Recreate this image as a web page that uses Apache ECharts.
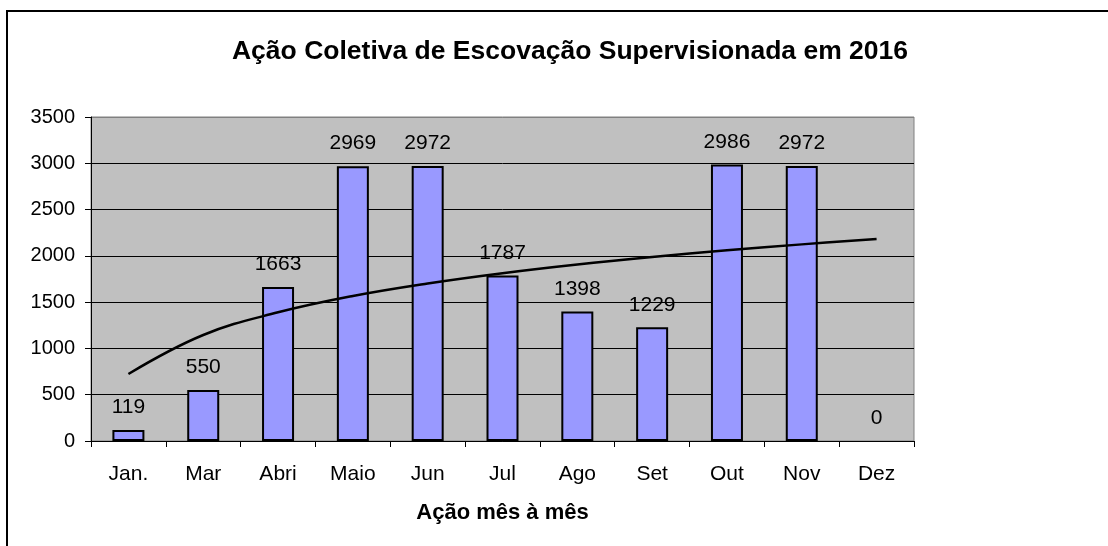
<!DOCTYPE html>
<html>
<head>
<meta charset="utf-8">
<script src="https://cdn.jsdelivr.net/npm/echarts@6/dist/echarts.min.js"></script>
<style>
  html, body { margin: 0; padding: 0; background: #fff; }
  #chart { width: 1108px; height: 546px; }
</style>
</head>
<body>
<div id="chart"></div>
<script>
  // dados
  const meses = ['Jan.', 'Mar', 'Abri', 'Maio', 'Jun', 'Jul', 'Ago', 'Set', 'Out', 'Nov', 'Dez'];
  const acoes = [119, 550, 1663, 2969, 2972, 1787, 1398, 1229, 2986, 2972, 0];
  // linha de tendência
  const tendencia = [724, 1145, 1390, 1567, 1702, 1813, 1907, 1988, 2060, 2124, 2182];

  const font = 'Liberation Sans, Arial, sans-serif';
  const chart = echarts.init(document.getElementById('chart'));

  chart.setOption({
    animation: false,
    backgroundColor: '#fff',
    title: {
      text: 'Ação Coletiva de Escovação Supervisionada em 2016',
      left: 565,
      top: 33,
      textAlign: 'center',
      textStyle: { fontFamily: font, fontSize: 26.5, fontWeight: 'bold', color: '#000' }
    },
    graphic: [{
      type: 'rect',
      shape: { x: 7, y: 11, width: 1200, height: 600 },
      style: { fill: 'none', stroke: '#000', lineWidth: 2 },
      silent: true
    }],
    grid: {
      left: 91, top: 117, right: 194, bottom: 105,
      show: true,
      backgroundColor: '#c0c0c0',
      borderColor: '#808080',
      borderWidth: 1
    },
    xAxis: {
      type: 'category',
      data: meses,
      name: 'Ação mês à mês',
      nameLocation: 'middle',
      nameGap: 61,
      nameTextStyle: { fontFamily: font, fontSize: 22, fontWeight: 'bold', color: '#000' },
      axisLine: { lineStyle: { color: '#000', width: 1 } },
      axisTick: { show: true, length: 6, lineStyle: { color: '#000' } },
      axisLabel: { fontFamily: font, fontSize: 21, color: '#000', margin: 23 }
    },
    yAxis: {
      type: 'value',
      min: 0,
      max: 3500,
      interval: 500,
      axisLine: { show: true, lineStyle: { color: '#000', width: 1 } },
      axisTick: { show: true, length: 6, lineStyle: { color: '#000' } },
      axisLabel: { fontFamily: font, fontSize: 20, color: '#000', margin: 16, formatter: v => String(v) },
      splitLine: { lineStyle: { color: ['#000', '#000', '#000', '#000', '#000', '#000', '#000', '#808080'], width: 1 } }
    },
    series: [
      {
        type: 'bar',
        data: acoes.map(v => ({ value: v, itemStyle: v === 0 ? { borderWidth: 0, opacity: 0 } : {} })),
        barWidth: 32,
        itemStyle: { color: '#9999ff', borderColor: '#000', borderWidth: 2 },
        label: {
          show: true,
          position: 'top',
          distance: 12,
          fontFamily: font,
          fontSize: 21,
          color: '#000',
          opacity: 1
        }
      },
      {
        type: 'line',
        data: tendencia,
        smooth: 0.4,
        symbol: 'none',
        lineStyle: { color: '#000', width: 2.5 },
        z: 5
      }
    ]
  });
</script>
</body>
</html>
